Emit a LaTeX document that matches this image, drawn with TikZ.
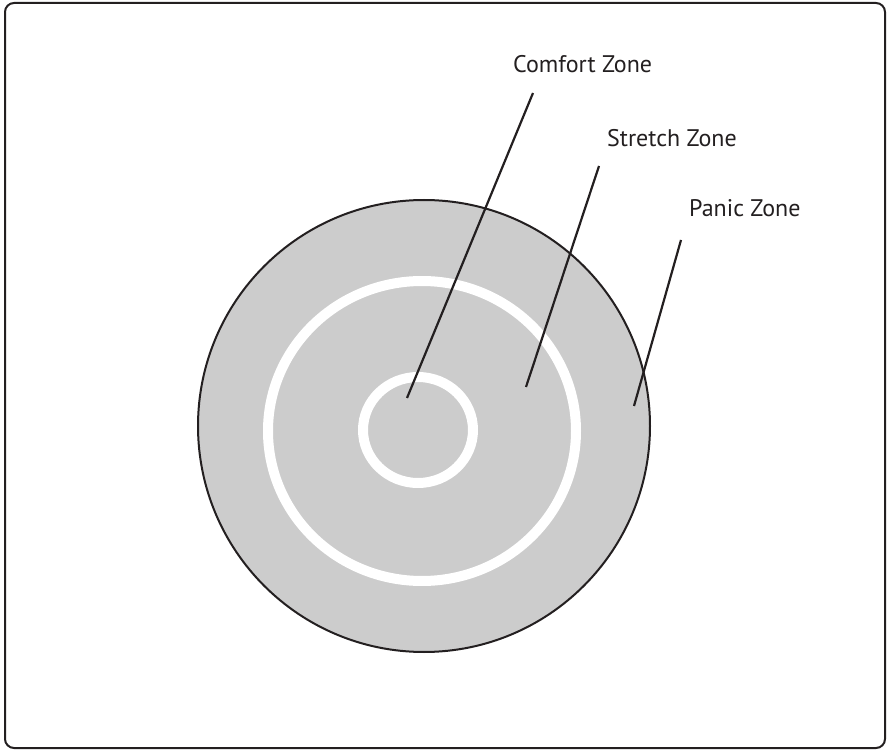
\documentclass[tikz,border=0pt]{standalone}
\usepackage{fontspec}
\setmainfont{PT Sans}
\definecolor{ink}{HTML}{231F20}
\definecolor{zone}{HTML}{CCCCCC}
\begin{document}
\begin{tikzpicture}[x=1pt,y=-1pt,
  lbl/.style={anchor=base west,inner sep=0pt,font=\fontsize{24}{27}\selectfont,text=ink},
  pointer/.style={draw=ink,line width=2.2pt},
  ring/.style={draw=white,line width=10pt}]
\useasboundingbox (0,0) rectangle (887,751);
\draw[ink,line width=2pt,rounded corners=9pt] (5,3) rectangle (885,748);
\fill[zone,draw=ink,line width=2pt] (424,426) circle (226);
\draw[ring] (422,431) ellipse [x radius=154,y radius=150];
\draw[ring] (418,430) ellipse [x radius=55,y radius=53];
\node[lbl] (comfort) at (513,73) {Comfort Zone};
\node[lbl] (stretch) at (607,147) {Stretch Zone};
\node[lbl] (panic) at (689,217) {Panic Zone};
\coordinate (c1) at (533,93);
\coordinate (c2) at (407,398);
\coordinate (s1) at (599,166);
\coordinate (s2) at (526,387);
\coordinate (p1) at (681,240);
\coordinate (p2) at (634,406);
\draw[pointer] (c1) -- (c2);
\draw[pointer] (s1) -- (s2);
\draw[pointer] (p1) -- (p2);
\end{tikzpicture}
\end{document}
